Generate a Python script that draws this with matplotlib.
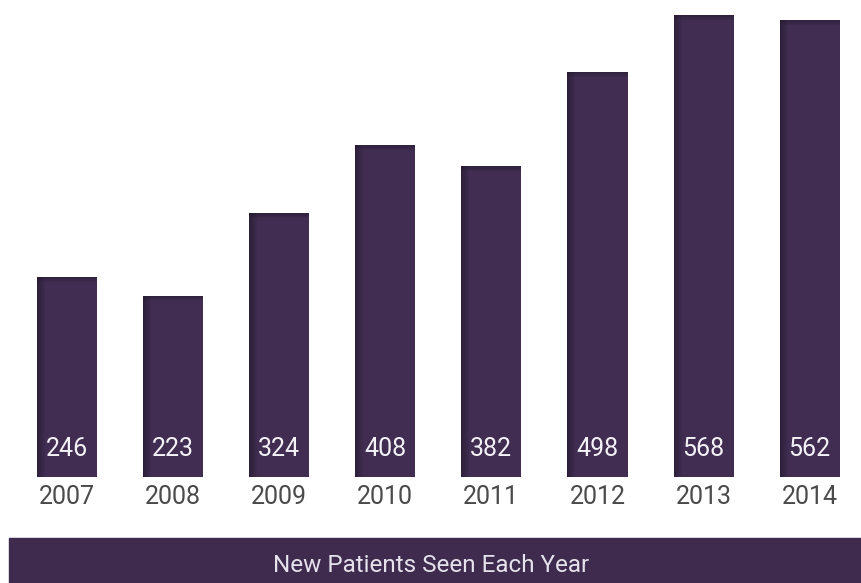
import matplotlib.pyplot as plt
from matplotlib.patches import Rectangle

years = ["2007", "2008", "2009", "2010", "2011", "2012", "2013", "2014"]
patients = [246, 223, 324, 408, 382, 498, 568, 562]

BAR = "#402d51"
DARK = "#1f1528"
BANNER = "#3e2b4e"


def main():
    plt.rcParams['font.family'] = ['Roboto', 'DejaVu Sans']
    fig = plt.figure(figsize=(8.62, 5.83), dpi=100)

    # axes spans full width; baseline sits 106 px above the bottom edge
    ax = fig.add_axes([0, 106 / 583, 1, 477 / 583])
    ax.set_xlim(-0.631, 7.493)
    ax.set_ylim(0, 586.4)
    ax.axis("off")

    xs = list(range(len(years)))
    w = 0.566
    ax.bar(xs, patients, width=w, color=BAR, zorder=2)

    # soft inner shading on the left and top edges of each bar
    strips = 8
    sw = 0.075 / strips
    for k in range(strips):
        a = 0.55 * (1 - k / strips)
        ax.bar([x - w / 2 + k * sw for x in xs], patients, width=sw, align="edge",
               color=DARK, alpha=a, linewidth=0, zorder=3)
    sh = 1.5
    for k in range(4):
        a = 0.45 * (1 - k / 4)
        ax.bar(xs, [sh] * len(xs), bottom=[p - sh * (k + 1) for p in patients],
               width=w, color=DARK, alpha=a, linewidth=0, zorder=3)

    for x, y, v in zip(xs, years, patients):
        ax.text(x, 34.4, str(v), ha="center", va="center", color="#f4f2f6",
                fontsize=18, zorder=5)
        ax.text(x, -24.6, y, ha="center", va="center", color="#4a4a4a",
                fontsize=18, clip_on=False)

    fig.patches.append(Rectangle((9 / 862, 0), 1 - 9 / 862, 45 / 583,
                                 transform=fig.transFigure, color=BANNER))
    fig.text(0.5, 18 / 583, "New Patients Seen Each Year", ha="center",
             va="center", color="#e6e2ec", fontsize=17.5)

    fig.savefig("out.png", dpi=100, facecolor="white")


if __name__ == '__main__':
    main()
